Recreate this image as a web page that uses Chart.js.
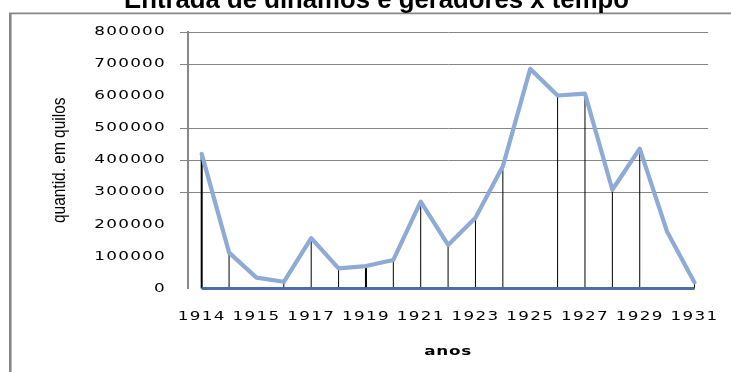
<!DOCTYPE html>
<html lang="pt">
<head>
<meta charset="utf-8">
<title>Entrada de dínamos e geradores x tempo</title>
<script src="https://cdn.jsdelivr.net/npm/chart.js@4.4.1/dist/chart.umd.min.js"></script>
<style>
  html, body { margin: 0; padding: 0; background: #fff; }
  #wrap { position: relative; width: 731px; height: 372px; }
</style>
</head>
<body>
<div id="wrap"><canvas id="grafico"></canvas></div>
<script>
// Categorias (anos) e valores da série
const anos = ['1914', '1914', '1915', '1916', '1917', '1918', '1919', '1920', '1921', '1922',
              '1923', '1924', '1925', '1926', '1927', '1928', '1929', '1930', '1931'];
const quantidade = [420000, 112000, 34000, 21000, 157000, 63000, 70000, 89000, 271000, 136000,
                    221000, 381000, 685000, 602000, 608000, 308000, 436000, 177000, 19000];
const linhaBase = [0, 0, 0, 0, 0, 0, 0, 0, 0, 0, 0, 0, 0, 0, 0, 0, 0, 0, 0];

// Marcas do eixo vertical e linhas de grade desenhadas
const valoresEixoY = [0, 100000, 200000, 300000, 400000, 500000, 600000, 700000, 800000];
const linhasGuia = [300000, 400000, 500000, 700000, 800000];

// Espessura das linhas verticais de queda em cada ano
const espessuraQueda = [2, 1, 0, 1, 1, 1, 2, 1, 1, 1, 1, 1, 0, 1, 1, 1, 1, 0, 1];

const titulo = 'Entrada de dínamos e geradores x tempo';

// Moldura cinza e título do gráfico
const moldura = {
  id: 'moldura',
  beforeDraw(chart) {
    const c = chart.ctx;
    c.save();
    c.fillStyle = '#ffffff';
    c.fillRect(0, 0, chart.width, chart.height);
    c.strokeStyle = '#878787';
    c.lineWidth = 2.6;
    c.beginPath();
    c.moveTo(10.3, chart.height + 5);
    c.lineTo(10.3, 13.3);
    c.stroke();
    c.lineWidth = 1.8;
    c.beginPath();
    c.moveTo(9, 13.3);
    c.lineTo(chart.width + 5, 13.3);
    c.stroke();

    c.font = 'bold 25px "Liberation Sans", Arial, sans-serif';
    c.fillStyle = '#000000';
    c.textAlign = 'center';
    c.textBaseline = 'alphabetic';
    const w = c.measureText(titulo).width;
    c.translate(376.5, 8);
    c.scale(505 / w, 1);
    c.fillText(titulo, 0, 0);
    c.restore();
  }
};

// Linhas verticais do eixo até cada ponto da série
const linhasQueda = {
  id: 'linhasQueda',
  beforeDatasetsDraw(chart) {
    const meta = chart.getDatasetMeta(0);
    const y0 = chart.scales.y.getPixelForValue(0);
    const c = chart.ctx;
    c.save();
    c.strokeStyle = '#000000';
    meta.data.forEach((pt, i) => {
      const w = espessuraQueda[i];
      if (!w) return;
      c.lineWidth = w;
      c.beginPath();
      c.moveTo(pt.x, y0);
      c.lineTo(pt.x, pt.y);
      c.stroke();
    });
    c.restore();
  }
};

// Texto dos eixos com largura ajustada: cada rótulo é esticado (ou
// estreitado) no sentido da escrita, em torno do seu próprio ponto de âncora.
function comLargura(c, fator, espaco, desenho) {
  c.save();
  c.letterSpacing = espaco;
  const girar = c.rotate;
  c.rotate = function (a) {
    girar.call(c, a);
    c.scale(fator, 1);
  };
  try {
    desenho();
  } finally {
    delete c.rotate;
    c.restore();
  }
}

const larguraTexto = {
  id: 'larguraTexto',
  afterLayout(chart) {
    const ajustes = {
      x: { rotulos: [1.4, '0.9px'], titulo: [1.4, '0.5px'] },
      y: { rotulos: [1.4, '0.9px'], titulo: [0.86, '0px'] }
    };
    Object.keys(ajustes).forEach(id => {
      const s = chart.scales[id];
      if (s._ajustado) return;
      const a = ajustes[id];
      const desenhaRotulos = s.drawLabels.bind(s);
      const desenhaTitulo = s.drawTitle.bind(s);
      s.drawLabels = area => comLargura(s.ctx, a.rotulos[0], a.rotulos[1], () => desenhaRotulos(area));
      s.drawTitle = () => comLargura(s.ctx, a.titulo[0], a.titulo[1], () => desenhaTitulo());
      s._ajustado = true;
    });
  }
};

const corGuia = ctx => (ctx.tick && linhasGuia.includes(ctx.tick.value)) ? '#878787' : 'rgba(0,0,0,0)';
const fonteEixo = { family: '"DejaVu Sans", Verdana, sans-serif', size: 12 };

new Chart(document.getElementById('grafico'), {
  type: 'line',
  data: {
    labels: anos,
    datasets: [
      {
        data: quantidade,
        borderColor: '#8eaad6',
        borderWidth: 4.2,
        borderJoinStyle: 'round',
        borderCapStyle: 'round',
        pointRadius: 0,
        tension: 0,
        fill: false,
        clip: false
      },
      {
        data: linhaBase,
        borderColor: '#4a6ea6',
        borderWidth: 3,
        pointRadius: 0,
        tension: 0,
        fill: false,
        clip: false
      }
    ]
  },
  options: {
    responsive: true,
    maintainAspectRatio: false,
    devicePixelRatio: 1,
    animation: false,
    events: [],
    layout: { padding: { top: 32, right: 9, left: 0, bottom: 0 } },
    plugins: {
      legend: { display: false },
      tooltip: { enabled: false },
      title: { display: false }
    },
    scales: {
      x: {
        offset: true,
        grid: { display: false, drawTicks: false },
        border: { display: false },
        ticks: {
          autoSkip: false,
          maxRotation: 0,
          minRotation: 0,
          padding: 21,
          color: '#000000',
          font: fonteEixo,
          callback: (v, i) => (i % 2 === 0 ? anos[i] : '')
        },
        title: {
          display: true,
          text: 'anos',
          color: '#000000',
          font: { family: '"DejaVu Sans", Verdana, sans-serif', size: 12, weight: 'bold' },
          padding: { top: 0, bottom: 13 }
        },
        afterFit(s) { s.height = 83.5; }
      },
      y: {
        min: 0,
        max: 800000,
        afterBuildTicks(s) { s.ticks = valoresEixoY.map(v => ({ value: v })); },
        grid: {
          color: corGuia,
          tickColor: corGuia,
          lineWidth: 1,
          tickLength: 8,
          drawTicks: true
        },
        border: { display: true, color: '#878787', width: 2 },
        ticks: {
          padding: 14,
          color: '#000000',
          font: fonteEixo,
          callback: v => String(v)
        },
        title: {
          display: true,
          text: 'quantid. em quilos',
          color: '#000000',
          font: { family: '"Liberation Sans", Arial, sans-serif', size: 18 },
          padding: { top: 49, bottom: 0 }
        },
        afterFit(s) { s.width = 188; }
      }
    }
  },
  plugins: [moldura, linhasQueda, larguraTexto]
});
</script>
</body>
</html>
